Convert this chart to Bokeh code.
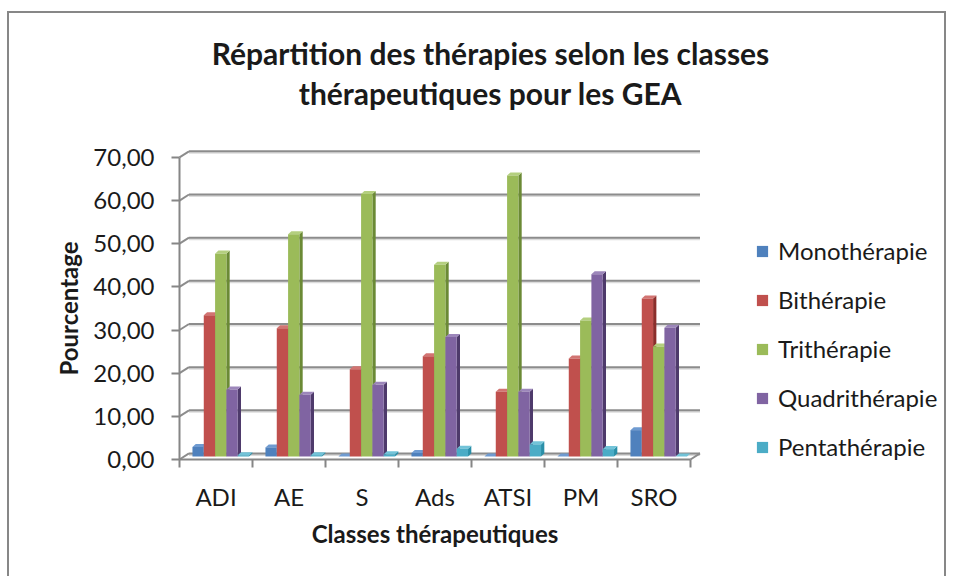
from bokeh.plotting import figure
from bokeh.models import (Range1d, FixedTicker, Label, Legend, LegendItem,
                          ColumnDataSource)
from bokeh.embed import file_html
from bokeh.resources import INLINE

# ---------------- data ----------------
CATEGORIES = ["ADI", "AE", "S", "Ads", "ATSI", "PM", "SRO"]
SERIES = ["Monothérapie", "Bithérapie", "Trithérapie", "Quadrithérapie", "Pentathérapie"]
MONO = [2.2, 2.1, 0.0, 0.8, 0.0, 0.0, 6.1]
BI = [32.7, 29.7, 20.2, 23.2, 15.0, 22.7, 36.6]
TRI = [47.0, 51.5, 60.8, 44.4, 65.1, 31.5, 25.5]
QUAD = [15.5, 14.3, 16.6, 27.7, 15.0, 42.2, 29.8]
PENTA = [0.3, 0.3, 0.5, 1.8, 2.8, 1.7, 0.0]
Y_TICKS = [0, 10, 20, 30, 40, 50, 60, 70]
TITLE_LINES = ["Répartition des thérapies selon les classes", "thérapeutiques pour les GEA"]

VALUES = [MONO, BI, TRI, QUAD, PENTA]
FRONT = ["#4F81BD", "#C0504D", "#9BBB59", "#8064A2", "#4BACC6"]
SIDE = ["#2F5B8C", "#8B2E2B", "#6B8A35", "#4E3A6B", "#2A8FA8"]
TOP = ["#6F9BD1", "#D27472", "#B4CF7F", "#9C86BA", "#72C3D8"]

FONT = "Lato"
TXT = "#1A1A1A"
GRID_C = "#8C8C8C"

# ---------------- layout (pixels) ----------------
W, H = 939, 565            # canvas size
OX, OY = 9, 13             # canvas origin on the page (inside the border)
AX_X, AX_Y = 179, 459      # page position of the (0, 0) corner of the axes
PX_CAT = 73.0              # pixels per category
PX_UNIT = 4.316            # pixels per percentage point

x0 = -(AX_X - OX) / PX_CAT
y0 = -(OY + H - AX_Y) / PX_UNIT
n_cat = len(CATEGORIES)

GRID_DX, GRID_DY = 0.13, 1.4     # back wall offset (category units, value units)
BAR_DX, BAR_DY = 0.045, 0.7      # bar depth
BAR_W = 0.155

p = figure(width=W, height=H, output_backend="svg", toolbar_location=None,
           x_range=Range1d(x0, x0 + W / PX_CAT), y_range=Range1d(y0, y0 + H / PX_UNIT),
           min_border=0, min_border_left=0, min_border_right=0,
           min_border_top=0, min_border_bottom=0,
           styles={"border-left": "2px solid #878787",
                   "border-top": "2px solid #878787",
                   "border-right": "2px solid #878787",
                   "margin-left": "7px", "margin-top": "11px"})
p.outline_line_color = None
p.background_fill_color = "white"
p.border_fill_color = "white"
p.xgrid.grid_line_color = None
p.ygrid.grid_line_color = None

# back-wall gridlines and small diagonals
gx0 = [GRID_DX] * len(Y_TICKS)
gx1 = [n_cat + GRID_DX] * len(Y_TICKS)
gy = [t + GRID_DY for t in Y_TICKS]
p.segment(x0=gx0, y0=[g - 0.35 for g in gy], x1=gx1, y1=[g - 0.35 for g in gy],
          line_color="#DCDCDC", line_width=2)
p.segment(x0=gx0, y0=gy, x1=gx1, y1=gy, line_color=GRID_C, line_width=2)
p.segment(x0=[0] * len(Y_TICKS), y0=Y_TICKS, x1=gx0, y1=gy,
          line_color=GRID_C, line_width=2)
p.segment(x0=[n_cat], y0=[0], x1=[n_cat + GRID_DX], y1=[GRID_DY],
          line_color=GRID_C, line_width=2)

# 3D-looking bars
base = GRID_DY - BAR_DY
shift = GRID_DX / 2
legend_items = []
for s, vals in enumerate(VALUES):
    xc = [i + 0.5 + (s - 2) * BAR_W + shift for i in range(n_cat)]
    side_xs, side_ys, top_xs, top_ys = [], [], [], []
    for x, v in zip(xc, vals):
        r = x + BAR_W / 2
        l = x - BAR_W / 2
        side_xs.append([r, r + BAR_DX, r + BAR_DX, r])
        side_ys.append([base, base + BAR_DY, base + v + BAR_DY, base + v])
        top_xs.append([l, r, r + BAR_DX, l + BAR_DX])
        top_ys.append([base + v, base + v, base + v + BAR_DY, base + v + BAR_DY])
    p.patches(xs=side_xs, ys=side_ys, fill_color=SIDE[s], line_color=None)
    p.patches(xs=top_xs, ys=top_ys, fill_color=TOP[s], line_color=None)
    src = ColumnDataSource(dict(x=xc, top=[base + v for v in vals]))
    r_front = p.vbar(x="x", top="top", bottom=base, width=BAR_W, source=src,
                     fill_color=FRONT[s], line_color=None)
    legend_items.append(LegendItem(label=SERIES[s], renderers=[r_front]))

# axes (fixed inside the full-canvas frame)
ya = p.yaxis[0]
ya.fixed_location = 0
ya.ticker = FixedTicker(ticks=Y_TICKS)
ya.major_label_overrides = {t: f"{t:.2f}".replace(".", ",") for t in Y_TICKS}
ya.axis_line_color = "#868686"
ya.axis_line_width = 2
ya.major_tick_line_color = "#868686"
ya.major_tick_line_width = 2
ya.major_tick_out = 8
ya.major_tick_in = 0
ya.minor_tick_line_color = None
ya.major_label_standoff = 17
ya.major_label_text_font = FONT
ya.major_label_text_font_size = "24px"
ya.major_label_text_color = TXT
ya.axis_label = "Pourcentage"
ya.axis_label_text_font = FONT
ya.axis_label_text_font_style = "bold"
ya.axis_label_text_font_size = "24px"
ya.axis_label_text_color = TXT
ya.axis_label_standoff = 7
ya.bounds = (0, Y_TICKS[-1])

centers = [i + 0.5 for i in range(n_cat)]
xa = p.xaxis[0]
xa.fixed_location = 0
xa.ticker = FixedTicker(ticks=centers, minor_ticks=list(range(n_cat + 1)))
xa.major_label_overrides = {c: lab for c, lab in zip(centers, CATEGORIES)}
xa.bounds = (0, n_cat)
xa.axis_line_color = "#868686"
xa.axis_line_width = 2
xa.major_tick_line_color = None
xa.major_tick_out = 0
xa.major_tick_in = 0
xa.minor_tick_line_color = "#868686"
xa.minor_tick_line_width = 2
xa.minor_tick_out = 8
xa.minor_tick_in = 0
xa.major_label_standoff = 14
xa.major_label_text_font = FONT
xa.major_label_text_font_size = "24px"
xa.major_label_text_color = TXT
xa.axis_label = "Classes thérapeutiques"
xa.axis_label_text_font = FONT
xa.axis_label_text_font_style = "bold"
xa.axis_label_text_font_size = "24px"
xa.axis_label_text_color = TXT
xa.axis_label_standoff = 5

# title (two centred lines)
TITLE_CX = (490 - AX_X) / PX_CAT
for txt, py in zip(TITLE_LINES, [52, 92]):
    p.add_layout(Label(x=TITLE_CX, y=(AX_Y - py) / PX_UNIT, text=txt,
                       text_align="center", text_baseline="middle",
                       text_font=FONT, text_font_style="bold",
                       text_font_size="30px", text_color=TXT))

legend = Legend(items=legend_items, location=(755 - OX, OY + H - 461),
                orientation="vertical",
                label_text_font=FONT, label_text_font_size="24px",
                label_text_color=TXT, glyph_width=14, glyph_height=14,
                label_height=28, spacing=20, label_standoff=9, padding=0,
                margin=0, border_line_color=None, background_fill_alpha=0)
p.add_layout(legend)

open("out.html", "w").write(file_html(p, INLINE))
